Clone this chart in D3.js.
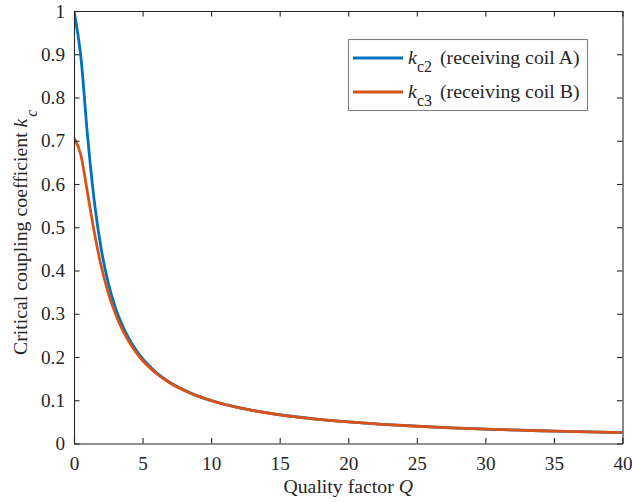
<!DOCTYPE html>
<html>
<head>
<meta charset="utf-8">
<script src="https://cdn.jsdelivr.net/npm/d3@7/dist/d3.min.js"></script>
<style>
  html, body { margin: 0; padding: 0; background: #fff; }
  svg { display: block; }
  svg text { font-family: "Liberation Serif", "Times New Roman", serif !important; fill: #262626; }
</style>
</head>
<body>
<svg id="chart" width="632" height="502"></svg>
<script>
// ---- data ----
const qualityQ = [0, 0.5, 1, 1.5, 2, 2.5, 3, 3.5, 4, 4.5, 5, 5.5, 6, 7, 8, 9, 10, 11, 12, 13, 14, 15, 17.5, 20, 22.5, 25, 27.5, 30, 32.5, 35, 37.5, 40];
const kc2 = [1.000, 0.894, 0.707, 0.555, 0.447, 0.371, 0.316, 0.275, 0.243, 0.217, 0.196, 0.179, 0.164, 0.141, 0.124, 0.110, 0.0995, 0.0905, 0.0830, 0.0767, 0.0712, 0.0665, 0.0570, 0.0499, 0.0444, 0.0400, 0.0363, 0.0333, 0.0308, 0.0286, 0.0267, 0.0250];
const kc3 = [0.707, 0.667, 0.577, 0.485, 0.408, 0.348, 0.302, 0.265, 0.236, 0.212, 0.192, 0.176, 0.162, 0.140, 0.123, 0.110, 0.0990, 0.0902, 0.0828, 0.0765, 0.0711, 0.0664, 0.0570, 0.0499, 0.0444, 0.0399, 0.0363, 0.0333, 0.0307, 0.0286, 0.0267, 0.0250];
const xTicks = [0, 5, 10, 15, 20, 25, 30, 35, 40];
const yTicks = [0, 0.1, 0.2, 0.3, 0.4, 0.5, 0.6, 0.7, 0.8, 0.9, 1];
const seriesSub = ["c2", "c3"];
const seriesDesc = ["(receiving coil A)", "(receiving coil B)"];
const seriesColors = ["#0072BD", "#D95319"];

// ---- layout ----
const L = 74, R = 622.5, T = 11, B = 443.5;
const svg = d3.select("#chart");
const x = d3.scaleLinear().domain([0, 40]).range([L, R]);
const y = d3.scaleLinear().domain([0, 1]).range([B, T]);
const axisColor = "#262626";
const tickLen = 5.5;
const tickFont = 19.2;
const labelFont = 19.8;
const serif = '"Liberation Serif", "Times New Roman", serif';

svg.append("defs").append("clipPath").attr("id", "plotclip")
  .append("rect").attr("x", L).attr("y", T).attr("width", R - L).attr("height", B - T);

// series
const series = [kc2, kc3];
const line = d3.line()
  .x((d, i) => x(qualityQ[i]))
  .y(d => y(d))
  .curve(d3.curveMonotoneX);
const gLines = svg.append("g").attr("clip-path", "url(#plotclip)");
series.forEach((s, k) => {
  gLines.append("path")
    .attr("d", line(s))
    .attr("fill", "none")
    .attr("stroke", seriesColors[k])
    .attr("stroke-width", 2.8)
    .attr("stroke-linejoin", "round");
});

function styleAxis(g) {
  g.attr("font-family", serif).attr("font-size", tickFont);
  g.selectAll("path.domain").attr("stroke", axisColor).attr("stroke-width", 1.1);
  g.selectAll(".tick line").attr("stroke", axisColor).attr("stroke-width", 1.1);
  g.selectAll(".tick text").attr("fill", axisColor);
}
const xAxis = svg.append("g").attr("transform", `translate(0,${B})`)
  .call(d3.axisBottom(x).tickValues(xTicks).tickSizeInner(-tickLen).tickSizeOuter(0).tickPadding(13).tickFormat(d3.format("d")));
styleAxis(xAxis);
const xAxisTop = svg.append("g").attr("transform", `translate(0,${T})`)
  .call(d3.axisTop(x).tickValues(xTicks).tickSizeInner(-tickLen).tickSizeOuter(0).tickFormat(""));
styleAxis(xAxisTop);
const yAxis = svg.append("g").attr("transform", `translate(${L},0)`)
  .call(d3.axisLeft(y).tickValues(yTicks).tickSizeInner(-tickLen).tickSizeOuter(0).tickPadding(9).tickFormat(d => d === 0 ? "0" : d === 1 ? "1" : d3.format(".1f")(d)));
styleAxis(yAxis);
const yAxisRight = svg.append("g").attr("transform", `translate(${R},0)`)
  .call(d3.axisRight(y).tickValues(yTicks).tickSizeInner(-tickLen).tickSizeOuter(0).tickFormat(""));
styleAxis(yAxisRight);

// x label
const xl = svg.append("text")
  .attr("x", (L + R) / 2).attr("y", 493)
  .attr("text-anchor", "middle")
  .attr("font-family", serif)
  .attr("font-size", labelFont);
xl.append("tspan").text("Quality factor ");
xl.append("tspan").attr("font-style", "italic").text("Q");

// y label
const yl = svg.append("text")
  .attr("transform", `translate(26.5,${(T + B) / 2 + 5}) rotate(-90)`)
  .attr("text-anchor", "middle")
  .attr("font-family", serif)
  .attr("font-size", labelFont);
yl.append("tspan").text("Critical coupling coefficient ");
yl.append("tspan").attr("font-style", "italic").text("k");
yl.append("tspan").attr("dx", 2).attr("dy", 10.5).attr("font-size", 16).attr("font-style", "italic").text("c");

// legend
const lg = svg.append("g").attr("font-family", serif);
lg.append("rect").attr("x", 348.5).attr("y", 39.5).attr("width", 239).attr("height", 71)
  .attr("fill", "#fff").attr("stroke", "#7f7f7f").attr("stroke-width", 1.1);
const rowY = [58, 92];
series.forEach((s, k) => {
  lg.append("line").attr("x1", 353).attr("x2", 403).attr("y1", rowY[k]).attr("y2", rowY[k])
    .attr("stroke", seriesColors[k]).attr("stroke-width", 2.8);
  const t = lg.append("text").attr("x", 408).attr("y", rowY[k] + 5.5).attr("font-size", labelFont);
  t.append("tspan").attr("font-style", "italic").text("k");
  t.append("tspan").attr("x", 417).attr("dy", 8.5).attr("font-size", 16).text(seriesSub[k]);
  t.append("tspan").attr("x", 440).attr("dy", -8.5).text(seriesDesc[k]);
});
</script>
</body>
</html>
